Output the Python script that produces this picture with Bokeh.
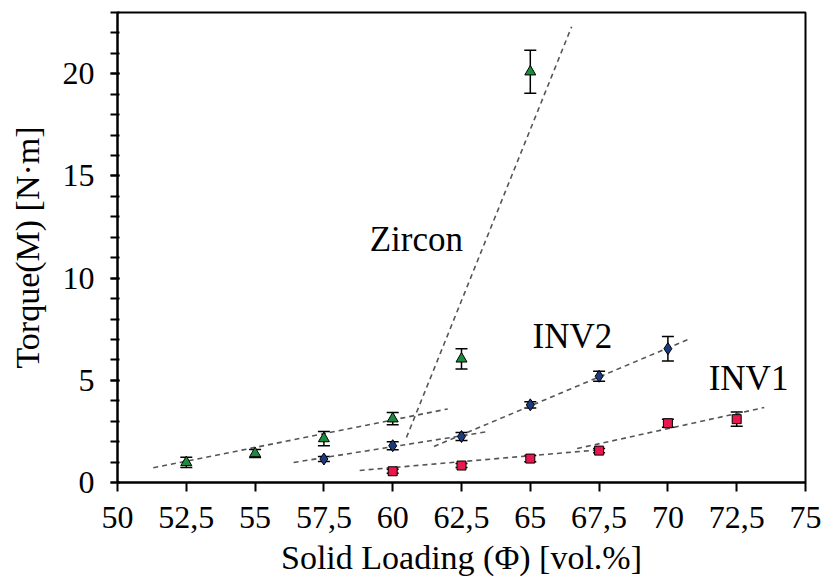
from bokeh.plotting import figure
from bokeh.models import ColumnDataSource, Whisker, TeeHead, FixedTicker, Range1d, Title
from bokeh.core.properties import value
from bokeh.embed import file_html
from bokeh.resources import INLINE

# ---- data ----
x_ticks = [50, 52.5, 55, 57.5, 60, 62.5, 65, 67.5, 70, 72.5, 75]
x_tick_labels = ["50", "52,5", "55", "57,5", "60", "62,5", "65", "67,5", "70", "72,5", "75"]
y_ticks = [0, 5, 10, 15, 20]

zircon_x = [52.5, 55, 57.5, 60, 62.5, 65]
zircon_y = [0.98, 1.42, 2.15, 3.12, 6.05, 20.1]
zircon_err = [0.25, 0.2, 0.35, 0.3, 0.5, 1.05]

inv2_x = [57.5, 60, 62.5, 65, 67.5, 70]
inv2_y = [1.15, 1.8, 2.25, 3.8, 5.2, 6.55]
inv2_err = [0.12, 0.2, 0.2, 0.15, 0.25, 0.6]

inv1_x = [60, 62.5, 65, 67.5, 70, 72.5]
inv1_y = [0.55, 0.83, 1.17, 1.56, 2.9, 3.1]
inv1_err = [0.1, 0.1, 0.15, 0.1, 0.2, 0.35]

# trend lines (endpoints)
zircon_fit1_x = [51.3, 62.0]
zircon_fit1_y = [0.72, 3.6]
zircon_fit2_x = [60.5, 66.5]
zircon_fit2_y = [2.2, 22.3]
inv2_fit1_x = [56.4, 63.5]
inv2_fit1_y = [0.98, 2.5]
inv2_fit2_x = [61.5, 70.8]
inv2_fit2_y = [1.76, 7.04]
inv1_fit1_x = [58.8, 67.5]
inv1_fit1_y = [0.59, 1.6]
inv1_fit2_x = [66.7, 73.5]
inv1_fit2_y = [1.66, 3.67]

label_text = ["Zircon", "INV2", "INV1"]
label_x = [60.86, 66.53, 72.93]
label_y = [11.9, 7.15, 5.1]

x_title = "Solid Loading (Φ) [vol.%]"
y_title = "Torque(M) [N·m]"

FONT = "Liberation Serif"

p = figure(width=822, height=586, output_backend="svg", toolbar_location=None,
           x_range=Range1d(50, 75), y_range=Range1d(0, 23),
           min_border_left=117, min_border_right=17, min_border_top=12, min_border_bottom=104)
p.background_fill_color = "white"
p.border_fill_color = "white"
p.grid.visible = False
p.outline_line_color = "black"
p.outline_line_width = 2

# trend lines
for xs, ys in [(zircon_fit1_x, zircon_fit1_y), (zircon_fit2_x, zircon_fit2_y),
               (inv2_fit1_x, inv2_fit1_y), (inv2_fit2_x, inv2_fit2_y),
               (inv1_fit1_x, inv1_fit1_y), (inv1_fit2_x, inv1_fit2_y)]:
    p.line(xs, ys, line_color="#555555", line_width=1.6, line_dash="5 4")

def add_series(xs, ys, errs, marker, color, size):
    src = ColumnDataSource(dict(x=xs, y=ys,
                                lo=[a - b for a, b in zip(ys, errs)],
                                hi=[a + b for a, b in zip(ys, errs)]))
    w = Whisker(source=src, base="x", lower="lo", upper="hi",
                line_color="black", line_width=1.5,
                lower_head=TeeHead(size=12, line_color="black", line_width=1.5),
                upper_head=TeeHead(size=12, line_color="black", line_width=1.5))
    p.add_layout(w)
    p.scatter("x", "y", source=src, marker=marker, size=size,
              fill_color=color, line_color="black", line_width=1)

add_series(zircon_x, zircon_y, zircon_err, "triangle", "#1a8c3c", 11)
add_series(inv2_x, inv2_y, inv2_err, "diamond", "#1c3a80", 12)
add_series(inv1_x, inv1_y, inv1_err, "square", "#e8174e", 9)

p.text(x=label_x, y=label_y, text=label_text, text_font=value(FONT),
       text_font_size="35px", text_color="black", text_align="center",
       text_baseline="middle")

# x axis title as a panel below the axis
p.add_layout(Title(text=x_title, align="center", text_font=FONT,
                   text_font_size="34px", text_font_style="normal",
                   text_color="black", standoff=12, offset=0), "below")

# axes
p.xaxis.ticker = FixedTicker(ticks=x_ticks)
p.xaxis.major_label_overrides = {t: l for t, l in zip(x_ticks, x_tick_labels)}
p.xaxis.major_tick_out = 9
p.xaxis.major_tick_in = 0
p.xaxis.major_tick_line_width = 2
p.xaxis.axis_line_width = 2
p.xaxis.major_label_standoff = 15

p.yaxis.ticker = FixedTicker(ticks=y_ticks, minor_ticks=list(range(0, 24)))
p.yaxis.major_tick_out = 7
p.yaxis.major_tick_in = 2
p.yaxis.minor_tick_out = 7
p.yaxis.minor_tick_in = 2
p.yaxis.major_tick_line_width = 2
p.yaxis.minor_tick_line_width = 2
p.yaxis.axis_line_width = 2
p.yaxis.axis_label = y_title
p.yaxis.major_label_standoff = 16

for ax in [p.xaxis, p.yaxis]:
    ax.major_label_text_font = FONT
    ax.major_label_text_font_size = "32px"
    ax.major_label_text_color = "black"
    ax.axis_label_text_font = FONT
    ax.axis_label_text_font_size = "34px"
    ax.axis_label_text_font_style = "normal"
    ax.axis_label_text_color = "black"
    ax.axis_line_color = "black"
    ax.major_tick_line_color = "black"
    ax.minor_tick_line_color = "black"
p.xaxis.minor_tick_line_color = None
p.yaxis.axis_label_standoff = 14

open("out.html", "w").write(file_html(p, INLINE))
